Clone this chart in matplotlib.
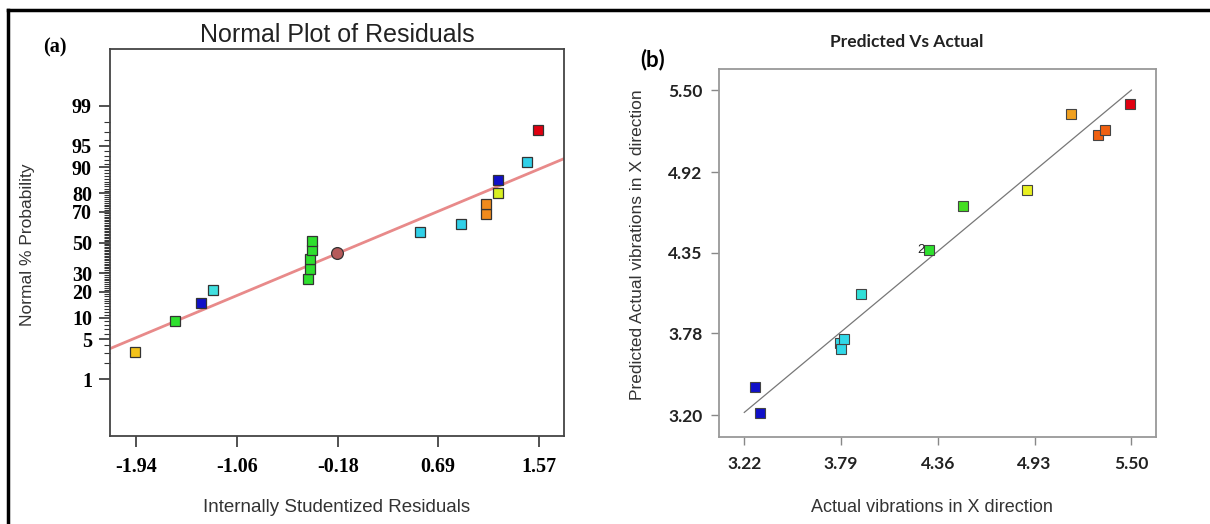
import matplotlib
matplotlib.use("Agg")
import matplotlib.pyplot as plt
from matplotlib.lines import Line2D
from statistics import NormalDist

nd = NormalDist()

# ---- panel (a): normal plot of residuals ----
resid_a = [-1.95, -1.60, -1.37, -1.27, -0.44, -0.42, -0.42, -0.41, -0.41,
           -0.19, 0.53, 0.89, 1.11, 1.11, 1.21, 1.21, 1.46, 1.56]
prob_a = [3.1, 9.1, 15.1, 21.0, 27.0, 32.9, 39.1, 45.0, 51.0,
          42.8, 56.8, 62.5, 68.6, 74.3, 80.0, 85.7, 91.4, 97.2]
colors_a = ['#f2c21a', '#2ee02e', '#1010c8', '#40e0e0', '#2ee02e', '#2ee02e',
            '#2ee02e', '#2ee02e', '#2ee02e', '#b55a5a', '#30d0e8', '#30d0e8',
            '#f08a1c', '#f08a1c', '#d8f020', '#1010c8', '#30d0e8', '#e00010']
markers_a = ['s'] * 9 + ['o'] + ['s'] * 8
fit_x_a = [-2.164, 1.786]
fit_p_a = [3.56, 92.3]
xticks_a = [-1.94, -1.06, -0.18, 0.69, 1.57]
yticks_a = [1, 5, 10, 20, 30, 50, 70, 80, 90, 95, 99]

# ---- panel (b): predicted vs actual ----
actual_b = [3.284, 3.314, 3.785, 3.792, 3.806, 3.905, 4.306, 4.506, 4.885,
            5.144, 5.301, 5.345, 5.494]
pred_b = [3.400, 3.216, 3.712, 3.665, 3.738, 4.054, 4.368, 4.681, 4.792,
          5.328, 5.182, 5.217, 5.399]
colors_b = ['#1010c8', '#1010c8', '#30d8e8', '#30d8e8', '#30d8e8', '#30e0d8',
            '#2ee02e', '#44dd22', '#e8f020', '#f0a020', '#f06010', '#f06010',
            '#e00010']
fit_b = [3.22, 5.50]
xticks_b = [3.22, 3.79, 4.36, 4.93, 5.50]
yticks_b = [3.20, 3.78, 4.35, 4.92, 5.50]

W, H = 1210, 524
fig = plt.figure(figsize=(W / 100, H / 100), dpi=100)


def box(l, t, r, b):
    return [l / W, (H - b) / H, (r - l) / W, (b - t) / H]


def z(p):
    return nd.inv_cdf(p / 100.0)


# outer frame (left and top only, the picture is cropped)
fig.add_artist(Line2D([8 / W, 8 / W], [0, 1 - 10 / H], color='black', lw=2.5))
fig.add_artist(Line2D([8 / W, 1], [1 - 10 / H, 1 - 10 / H], color='black', lw=2.5))

# ---------------- (a) ----------------
ax = fig.add_axes(box(110, 49, 564, 436))
ax.plot(fit_x_a, [z(p) for p in fit_p_a], color='#e88a8a', lw=2, zorder=2)
for x, p, c, m in zip(resid_a, prob_a, colors_a, markers_a):
    ax.plot(x, z(p), marker=m, ms=7.5 if m == 's' else 8.5, mfc=c,
            mec='#333333', mew=0.9, ls='none', zorder=3)
ax.set_xlim(-2.164, 1.786)
ax.set_ylim(-3.29, 3.29)
ax.set_xticks(xticks_a)
ax.set_xticklabels([f'{v:.2f}' for v in xticks_a])
ax.set_yticks([z(p) for p in yticks_a])
ax.set_yticklabels([str(p) for p in yticks_a])
ax.set_yticks([z(p) for p in range(1, 100) if p not in yticks_a], minor=True)
ax.tick_params(axis='both', which='major', direction='out', length=8,
               width=1.2, color='#333333', labelsize=14.5)
ax.tick_params(axis='y', which='minor', direction='out', length=4,
               width=0.8, color='#333333')
ax.tick_params(axis='x', pad=7)
ax.tick_params(axis='y', pad=5)
for lab in ax.get_xticklabels() + ax.get_yticklabels():
    lab.set_fontfamily('Liberation Serif')
    lab.set_fontweight('bold')
for s in ax.spines.values():
    s.set_color('#444444')
    s.set_linewidth(1.3)

fig.text(337 / W, 1 - 35 / H, 'Normal Plot of Residuals', ha='center',
         va='center', fontsize=18, family='Liberation Sans', color='#222222')
fig.text(55 / W, 1 - 47 / H, '(a)', ha='center', va='center', fontsize=14.5,
         family='Liberation Serif', fontweight='bold')
fig.text(28 / W, 1 - 245 / H, 'Normal % Probability', ha='center',
         va='center', rotation=90, fontsize=12.5, family='Liberation Sans',
         color='#333333')
fig.text(337 / W, 1 - 508 / H, 'Internally Studentized Residuals',
         ha='center', va='center', fontsize=13.5, family='Liberation Sans',
         color='#333333')

# ---------------- (b) ----------------
bx = fig.add_axes(box(719, 69, 1156, 437))
bx.plot(fit_b, fit_b, color='#777777', lw=0.9, zorder=2)
for x, y, c in zip(actual_b, pred_b, colors_b):
    bx.plot(x, y, 's', ms=7, mfc=c, mec='#444444', mew=0.8, zorder=3)
bx.text(actual_b[6] - 0.025, pred_b[6], '2', ha='right', va='center',
        fontsize=9.5, color='#222222', family='Liberation Sans')
bx.set_xlim(3.071, 5.645)
bx.set_ylim(3.046, 5.649)
bx.set_xticks(xticks_b)
bx.set_xticklabels([f'{v:.2f}' for v in xticks_b])
bx.set_yticks(yticks_b)
bx.set_yticklabels([f'{v:.2f}' for v in yticks_b])
bx.tick_params(axis='both', direction='out', length=6, width=1,
               color='#888888', labelsize=12.5)
bx.tick_params(axis='x', pad=8)
bx.tick_params(axis='y', pad=6)
for lab in bx.get_xticklabels() + bx.get_yticklabels():
    lab.set_fontfamily('Lato')
    lab.set_fontweight('bold')
    lab.set_color('#222222')
for s in bx.spines.values():
    s.set_color('#999999')
    s.set_linewidth(1.3)

fig.text(907 / W, 1 - 42 / H, 'Predicted Vs Actual', ha='center',
         va='center', fontsize=12.5, family='Lato', fontweight='bold',
         color='#222222')
fig.text(653 / W, 1 - 60 / H, '(b)', ha='center', va='center', fontsize=16,
         family='Lato', fontweight='bold')
fig.text(637 / W, 1 - 245 / H, 'Predicted Actual vibrations in X direction',
         ha='center', va='center', rotation=90, fontsize=12.5,
         family='Liberation Sans', color='#333333')
fig.text(932 / W, 1 - 507 / H, 'Actual vibrations in X direction',
         ha='center', va='center', fontsize=13, family='Liberation Sans',
         color='#333333')

fig.savefig('out.png', dpi=100)
